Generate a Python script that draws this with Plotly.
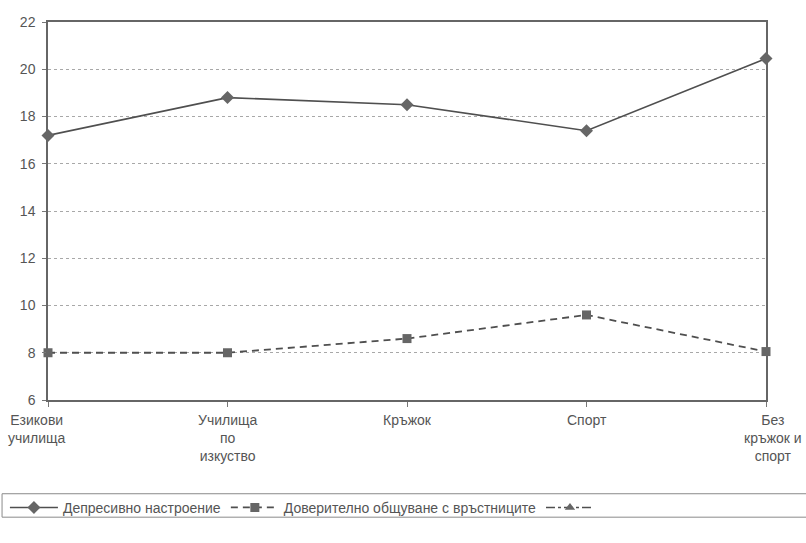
import plotly.graph_objects as go

categories = ["Езикови<br>училища", "Училища<br>по<br>изкуство", "Кръжок", "Спорт", "Без<br>кръжок и<br>спорт"]
depressive = [17.2, 18.8, 18.5, 17.4, 20.45]
trust = [8.0, 8.0, 8.6, 9.6, 8.05]
series_names = ["Депресивно настроение", "Доверително общуване с връстниците", ""]
y_ticks = [6, 8, 10, 12, 14, 16, 18, 20, 22]

x_idx = list(range(len(categories)))
line_col = "#4f4f4f"
txt_col = "#555555"
font_fam = "Liberation Sans Narrow, Arial Narrow, Liberation Sans, sans-serif"

fig = go.Figure()
fig.add_trace(go.Scatter(
    x=x_idx, y=depressive, name=series_names[0], mode="lines+markers",
    line=dict(color=line_col, width=1.6),
    marker=dict(symbol="diamond", size=10, color="#666666"),
    cliponaxis=False,
))
fig.add_trace(go.Scatter(
    x=x_idx, y=trust, name=series_names[1], mode="lines+markers",
    line=dict(color=line_col, width=1.8, dash="7px,5px"),
    marker=dict(symbol="square", size=9, color="#666666"),
    cliponaxis=False,
))
fig.add_trace(go.Scatter(
    x=[None], y=[None], name=series_names[2], mode="lines+markers",
    line=dict(color=line_col, width=1.6, dash="dashdot"),
    marker=dict(symbol="triangle-up", size=9, color="#666666"),
))

# category labels as annotations (edge labels pulled inside the page like the original)
anchors = ["left", "center", "center", "center", "right"]
shifts = [-42, 0, 0, 0, 38]
for i, lab in enumerate(categories):
    fig.add_annotation(
        x=x_idx[i], y=0, xref="x", yref="paper", yanchor="top",
        xanchor=anchors[i], yshift=-10, xshift=shifts[i], text=lab,
        showarrow=False, align="center",
        font=dict(size=14, color=txt_col, family=font_fam),
    )

# legend frame
fig.add_shape(type="rect", xref="paper", yref="paper",
              x0=-0.064, x1=1.058, y0=-0.31, y1=-0.248,
              line=dict(color="#8a8a8a", width=1), fillcolor="rgba(0,0,0,0)")

fig.update_layout(
    width=806, height=543,
    margin=dict(l=48, r=40, t=22, b=143, autoexpand=False),
    paper_bgcolor="white", plot_bgcolor="white",
    font=dict(family=font_fam, size=14, color=txt_col),
    showlegend=True,
    legend=dict(
        orientation="h", x=-0.06, xanchor="left", y=-0.243, yanchor="top",
        borderwidth=0, bgcolor="rgba(0,0,0,0)",
        font=dict(size=14, color=txt_col),
        itemwidth=48, tracegroupgap=0,
    ),
)
fig.update_xaxes(
    tickmode="array", tickvals=x_idx, showticklabels=False,
    range=[0, len(categories) - 1], automargin=False,
    showgrid=False, showline=True, linecolor="#666666", linewidth=1.5,
    mirror=True, ticks="outside", ticklen=5, tickcolor="#777777",
)
fig.update_yaxes(
    tickmode="array", tickvals=y_ticks, range=[6, 22], automargin=False,
    showgrid=True, gridcolor="#a8a8a8", griddash="dot", gridwidth=1,
    showline=True, linecolor="#666666", linewidth=1.5, mirror=True,
    ticks="outside", ticklen=4, tickcolor="#777777", ticklabelstandoff=4,
    tickfont=dict(size=14, color=txt_col),
    zeroline=False,
)

fig.write_html("out.html", config={"displayModeBar": False},
               post_script="document.body.style.margin='0';document.body.style.padding='0';")
